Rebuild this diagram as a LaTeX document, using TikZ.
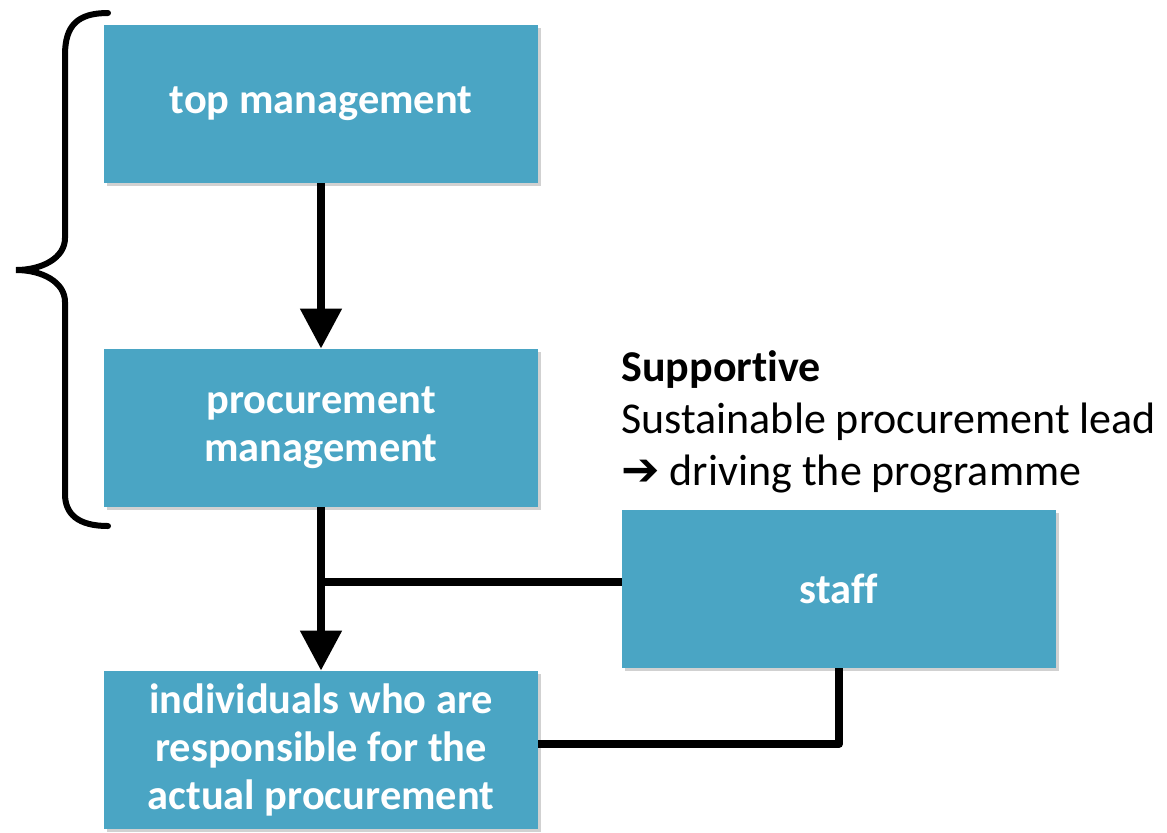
\documentclass[tikz,border=0pt]{standalone}
\usepackage{fontspec}
\setmainfont{Carlito}[Ligatures=NoCommon]
\newfontfamily\dejavu{DejaVu Sans}
\usetikzlibrary{arrows.meta,shadows}
\definecolor{boxblue}{RGB}{74,165,196}
\begin{document}
\begin{tikzpicture}[x=0.5pt,y=-0.5pt,
  box/.style={fill=boxblue, draw=none, minimum width=217pt, minimum height=79pt,
    inner sep=0pt, text=white, align=center, font=\bfseries\fontsize{21.2}{24}\selectfont,
    drop shadow={shadow xshift=1.5pt, shadow yshift=-1.5pt, opacity=0.18, fill=black}},
  conn/.style={line width=4pt, draw=black},
  arr/.style={conn, -{Triangle[width=20pt,length=20pt]}},
  sidetext/.style={align=left, inner sep=0pt, anchor=west, font=\fontsize{22}{26}\selectfont}
]
\useasboundingbox (0,0) rectangle (1167,832);
\node[box] (top) at (321,104) {top management};
\node[box] (proc) at (321,428) {procurement\\management};
\node[box] (ind) at (321,750) {individuals who are\\responsible for the\\actual procurement};
\node[box] (staff) at (839,589) {staff};
\node[sidetext] (supp) at (621,422) {\textbf{Supportive}\\Sustainable procurement lead\\{\dejavu\bfseries\fontsize{23}{26}\selectfont ➔} driving the programme};
\draw[arr] (top.south) -- (proc.north);
\draw[arr] (proc.south) -- (ind.north);
\coordinate (join) at (321,582);
\draw[conn] (staff.west |- join) -- (join);
\coordinate (bend) at (839,744);
\draw[conn, line join=round] (staff.south -| bend) -- (bend) -- (ind.east |- bend);
\draw[line width=3pt, line cap=round]
  (108,13) .. controls (78,13) and (65,25) .. (65,55)
  -- (65,238) .. controls (65,258) and (42,270) .. (16,270)
  .. controls (42,270) and (65,282) .. (65,302)
  -- (65,494) .. controls (65,514) and (78,526) .. (108,526);
\end{tikzpicture}
\end{document}
